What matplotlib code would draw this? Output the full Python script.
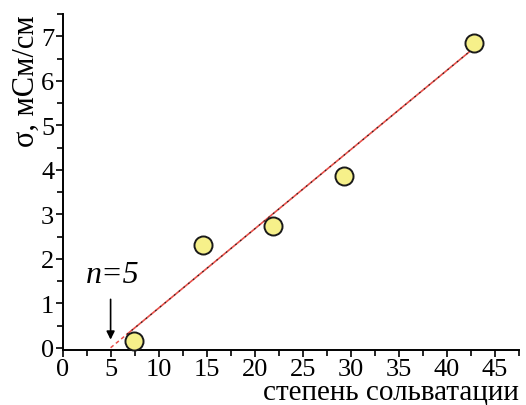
import matplotlib
matplotlib.use("Agg")
import matplotlib.pyplot as plt
from matplotlib.ticker import MultipleLocator

plt.rcParams['font.family'] = ['Liberation Serif', 'DejaVu Serif']

# data
x_vals = [7.4, 14.65, 21.9, 29.3, 42.9]
y_vals = [0.15, 2.32, 2.74, 3.86, 6.85]
fit_x = [6.7, 42.7]
fit_slope = 0.178
fit_x0 = 5.0
ext_x = [5.0, 6.7]
x_ticks = [0, 5, 10, 15, 20, 25, 30, 35, 40, 45]
y_ticks = [0, 1, 2, 3, 4, 5, 6, 7]

fig = plt.figure(figsize=(5.26, 4.06), dpi=100)
ax = fig.add_axes([0.119, 0.1355, 0.867, 0.8275])

def fit(xs):
    return [fit_slope * (v - fit_x0) for v in xs]

ax.plot(ext_x, fit(ext_x), color='#e8504a', lw=1.1, ls=(0, (2.5, 2)), zorder=2)
ax.plot(fit_x, fit(fit_x), color='#e8504a', lw=1.2, zorder=2)
ax.plot(fit_x, fit(fit_x), color='#222222', lw=0.8, ls=(0, (1.5, 4)), zorder=3)

ax.plot(x_vals, y_vals, 'o', ms=13, mfc='#f6f08a', mec='#1a1a1a', mew=1.4, zorder=4, clip_on=False)

ax.annotate('', xy=(5, 0.12), xytext=(5, 1.15),
            arrowprops=dict(arrowstyle='-|>', color='black', lw=1.2, mutation_scale=12))
ax.text(5.2, 1.64, 'n=5', fontsize=23, style='italic', ha='center', va='center')

ax.set_xlim(0, 47.5)
ax.set_ylim(-0.05, 7.5)
ax.set_xticks(x_ticks)
ax.set_yticks(y_ticks)
ax.xaxis.set_minor_locator(MultipleLocator(2.5))
ax.yaxis.set_minor_locator(MultipleLocator(0.5))
ax.tick_params(which='both', direction='out', width=1.2, labelsize=19, pad=1)
ax.tick_params(which='major', length=5)
ax.tick_params(which='minor', length=4)

for s in ['top', 'right']:
    ax.spines[s].set_visible(False)
for s in ['left', 'bottom']:
    ax.spines[s].set_linewidth(1.4)

ax.set_xlabel('степень сольватации', fontsize=21, loc='right', labelpad=-1)
ax.set_ylabel('σ, мСм/см', fontsize=22, loc='top', labelpad=0)

fig.savefig('out.png', dpi=100)
